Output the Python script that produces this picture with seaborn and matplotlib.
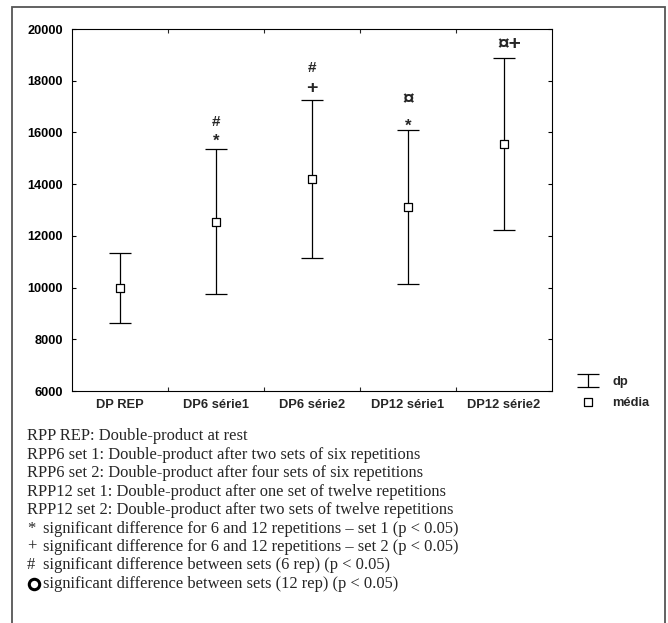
import matplotlib
matplotlib.use("Agg")
import matplotlib.pyplot as plt
import seaborn as sns
import pandas as pd
from matplotlib.lines import Line2D
from matplotlib.patches import Rectangle

# --- data ---
categories = ["DP REP", "DP6 série1", "DP6 série2", "DP12 série1", "DP12 série2"]
means = [9990, 12550, 14200, 13110, 15540]
sds = [1360, 2800, 3070, 2980, 3330]

notes = [
    "RPP REP: Double-product at rest",
    "RPP6 set 1: Double-product after two sets of six repetitions",
    "RPP6 set 2: Double-product after four sets of six repetitions",
    "RPP12 set 1: Double-product after one set of twelve repetitions",
    "RPP12 set 2: Double-product after two sets of twelve repetitions",
]
sig_symbols = ["*", "+", "#", "o"]
sig_notes = [
    "significant difference for 6 and 12 repetitions \u2013 set 1 (p < 0.05)",
    "significant difference for 6 and 12 repetitions \u2013 set 2 (p < 0.05)",
    "significant difference between sets (6 rep) (p < 0.05)",
    "significant difference between sets (12 rep) (p < 0.05)",
]

sns.set_style("ticks")
plt.rcParams["font.family"] = ["Liberation Sans", "DejaVu Sans"]

W, H = 668, 623
fig = plt.figure(figsize=(W / 100, H / 100), dpi=100)
ax = fig.add_axes([72 / W, 1 - 391 / H, 480 / W, 362 / H])

df = pd.DataFrame({"cat": categories, "mean": means, "sd": sds})

sns.scatterplot(data=df, x="cat", y="mean", marker="s", s=30, color="white",
                edgecolor="black", linewidth=0.9, label="média", zorder=3,
                legend=False, ax=ax)
ax.errorbar(df["cat"], df["mean"], yerr=df["sd"], fmt="none", ecolor="black",
            elinewidth=0.9, capsize=7.9, capthick=0.9, label="dp", zorder=2)

ax.set_xlim(-0.5, len(categories) - 0.5)
ax.set_ylim(6000, 20000)
ax.set_xlabel("")
ax.set_ylabel("")

# axes styling
for sp in ax.spines.values():
    sp.set_visible(True)
    sp.set_color("black")
    sp.set_linewidth(0.8)

ax.set_yticks(range(6000, 20001, 2000))
ax.tick_params(axis="y", direction="in", length=3, width=0.8, left=True,
               right=True, labelsize=9.2, pad=6.5, colors="black")
ax.set_xticks(range(len(categories)))
ax.set_xticklabels(categories)
ax.tick_params(axis="x", which="major", length=0, labelsize=9.3, pad=5.5)
ax.set_xticks([i + 0.5 for i in range(len(categories) - 1)], minor=True)
ax.tick_params(axis="x", which="minor", direction="in", length=3, width=0.8,
               top=True, bottom=True)
for lab in ax.get_xticklabels() + ax.get_yticklabels():
    lab.set_fontweight("bold")

# significance marks above the upper whiskers
def mark(i, sym, dy, size, dx=0):
    ax.annotate(sym, xy=(i, means[i] + sds[i]), xytext=(dx, dy),
                textcoords="offset points", ha="center", va="center",
                fontsize=size, fontweight="bold")

mark(1, "*", 5.8, 12)
mark(1, "#", 19.7, 11)
mark(2, "+", 8.2, 14)
mark(2, "#", 22.5, 11)
mark(3, "*", 2.8, 12)
mark(3, "\u00a4", 22, 15)
mark(4, "\u00a4+", 10, 15, dx=4)

# legend
h, l = ax.get_legend_handles_labels()
order = [l.index("dp"), l.index("média")]
fig.legend([h[k] for k in order], [l[k] for k in order],
           loc="upper left", bbox_to_anchor=(563 / W, 1 - 364 / H),
           frameon=False, handlelength=2.0, handletextpad=0.9,
           labelspacing=0.7, prop={"weight": "bold", "size": 9.3})

# footnotes
x0, x1 = 27 / W, 43 / W
y_first, step = 436.3, 18.45
serif = ["Liberation Serif", "DejaVu Serif"]
for k, txt in enumerate(notes):
    fig.text(x0, 1 - (y_first + k * step) / H, txt, ha="left", va="center",
             fontsize=11.9, family=serif)
for k, (sym, txt) in enumerate(zip(sig_symbols, sig_notes)):
    y = 1 - (y_first + (len(notes) + k) * step) / H
    if sym == "o":
        fig.add_artist(Line2D([33.5 / W], [y], marker="o", markersize=7.5,
                              markerfacecolor="white", markeredgecolor="black",
                              markeredgewidth=2.2, transform=fig.transFigure))
    else:
        fig.text(x0, y, sym, ha="left", va="center", fontsize=11.9, family=serif)
    fig.text(x1, y, txt, ha="left", va="center", fontsize=11.9, family=serif)

# outer frame
fig.add_artist(Rectangle((12 / W, -0.05), (665 - 12) / W, 1.05 - 7 / H,
                         transform=fig.transFigure, fill=False,
                         edgecolor="#555555", linewidth=1.3))

fig.savefig("out.png", dpi=100)
